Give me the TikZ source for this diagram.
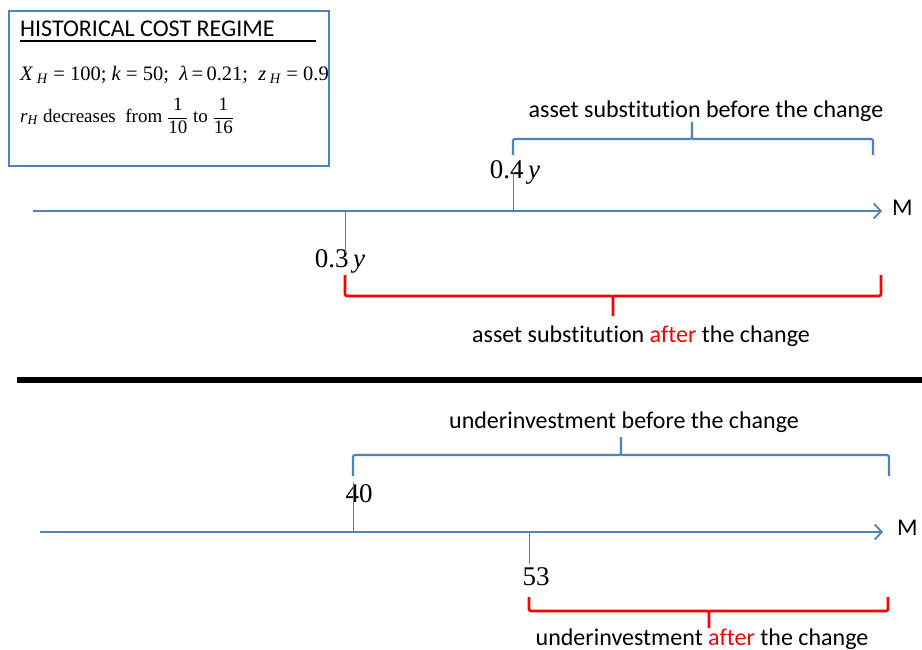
\documentclass[tikz,border=0pt]{standalone}
\usepackage{fontspec}
\setmainfont{Carlito}[Ligatures=NoCommon]
\newfontfamily\timesfont{Liberation Serif}
\usetikzlibrary{arrows.meta}

\definecolor{axisblue}{RGB}{79,129,189}
\definecolor{afterred}{RGB}{255,0,0}

\tikzset{
  maxis/.style={axisblue,line width=1.3pt,-{Straight Barb[length=7pt,width=15pt,line width=1.8pt]}},
  tickline/.style={axisblue,line width=1pt},
  bluebrace/.style={axisblue,line width=2.2pt,rounded corners=2pt},
  redbrace/.style={afterred,line width=2.6pt,rounded corners=2pt},
  captext/.style={inner sep=0pt,font=\fontsize{24}{28}\selectfont},
  valtext/.style={inner sep=0pt,font=\timesfont\fontsize{27}{31}\selectfont},
  boxtext/.style={inner sep=0pt,font=\timesfont\fontsize{20.5}{24}\selectfont},
  mtext/.style={inner sep=0pt,font=\fontsize{24}{28}\selectfont}
}

\begin{document}
\begin{tikzpicture}[x=1pt,y=-1pt]
\useasboundingbox (0,0) rectangle (922,650);

% regime box
\draw[axisblue,line width=1.5pt] (9,11) rectangle (329,166);
\node[captext,anchor=base west] (title) at (20,37) {HISTORICAL COST REGIME};
\draw[line width=2.2pt] (20,41) -- (316,41);
\node[boxtext,anchor=west] (params) at (20,75)
  {\textit{X}\,\textsubscript{\textit{H}}\ =\ 100;\ \textit{k}\ =\ 50;\ \ \textit{λ}\,=\,0.21;\ \ \textit{z}\,\textsubscript{\textit{H}}\ =\ 0.9};
\node[boxtext,anchor=west,font=\timesfont\fontsize{19}{22}\selectfont] (rate) at (20,116)
  {\textit{r}\textsubscript{\textit{H}} decreases\ \ from $\displaystyle\frac{\hbox{1}}{\hbox{10}}$ to $\displaystyle\frac{\hbox{1}}{\hbox{16}}$};

% upper axis
\coordinate (a0) at (33,211);
\coordinate (a1) at (882,211);
\draw[maxis] (a0) -- (a1);
\node[mtext,anchor=west] (m1) at (892,208) {M};

\coordinate (t04) at (513,211);
\node[valtext] (v04) at (515,172) {0.4\,\textit{y}};
\draw[tickline] (t04) -- (t04 |- v04);
\coordinate (t03) at (345,211);
\node[valtext] (v03) at (340,261) {0.3\,\textit{y}};
\draw[tickline] (t03) -- ([yshift=8pt]t03 |- v03);

\node[captext] (asb) at (706,111) {asset substitution before the change};
\node[captext] (asa) at (641,336) {asset substitution \textcolor{afterred}{after} the change};

% separator
\draw[line width=6pt] (17,380) -- (922,380);

% lower axis
\coordinate (b0) at (40,532);
\coordinate (b1) at (883,532);
\draw[maxis] (b0) -- (b1);
\node[mtext,anchor=west] (m2) at (897,528) {M};

\coordinate (t40) at (353,532);
\node[valtext] (v40) at (359,494) {40};
\draw[tickline] (t40) -- ([yshift=12pt]t40 |- v40);
\coordinate (t53) at (529,532);
\node[valtext] (v53) at (536,577) {53};
\draw[tickline] (t53) -- ([yshift=13pt]t53 |- v53);

\node[captext] (uib) at (624,422) {underinvestment before the change};
\node[captext] (uia) at (702,639) {underinvestment \textcolor{afterred}{after} the change};

% brackets: left/middle/right x, bar y, end y, tip y
\foreach \xl/\xm/\xr/\yb/\ye/\yt/\s in {513/692/873/139/155/122/bluebrace,
    345/613/881/296/275/316/redbrace, 353/621/889/455/476/437/bluebrace,
    529/709/888/611/597/628/redbrace}
  \draw[\s] (\xl,\ye) |- (\xm,\yb) -- (\xm,\yt) (\xm,\yb) -| (\xr,\ye);
\end{tikzpicture}
\end{document}
